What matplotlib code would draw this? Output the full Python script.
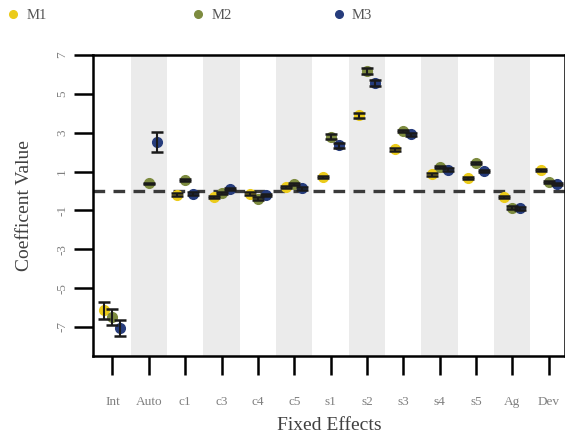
import numpy as np
import matplotlib
matplotlib.use("Agg")
import matplotlib.pyplot as plt
from matplotlib.lines import Line2D

nan = np.nan

effects = ["Int", "Auto", "c1", "c3", "c4", "c5", "s1", "s2", "s3", "s4", "s5", "Ag", "Dev"]
models = ["M1", "M2", "M3"]

m1_est = [-6.15, nan, -0.18, -0.30, -0.13, 0.21, 0.73, 3.90, 2.14, 0.85, 0.68, -0.30, 1.07]
m2_est = [-6.50, 0.40, 0.56, -0.10, -0.39, 0.35, 2.79, 6.17, 3.08, 1.24, 1.45, -0.85, 0.45]
m3_est = [-7.07, 2.53, -0.13, 0.09, -0.22, 0.13, 2.36, 5.54, 2.91, 1.10, 1.04, -0.90, 0.35]

m1_err = [0.45, nan, 0.06, 0.06, 0.06, 0.06, 0.06, 0.14, 0.06, 0.06, 0.06, 0.06, 0.06]
m2_err = [0.40, 0.03, 0.06, 0.06, 0.06, 0.06, 0.12, 0.17, 0.06, 0.06, 0.06, 0.06, 0.06]
m3_err = [0.42, 0.50, 0.06, 0.06, 0.06, 0.06, 0.12, 0.15, 0.06, 0.06, 0.06, 0.06, 0.06]

colors = ["#EBCB1A", "#7D8B3F", "#263C7C"]
offsets = [-0.22, 0.0, 0.22]
legend_x = [-0.013, 0.315, 0.563]

y_ticks = [-7, -5, -3, -1, 1, 3, 5, 7]

plt.rcParams["font.family"] = ["Liberation Serif", "DejaVu Serif"]

fig = plt.figure(figsize=(5.65, 4.44), dpi=100)
ax = fig.add_axes([0.165, 0.198, 0.835, 0.678])

x = np.arange(len(effects))
for i in x:
    if i % 2 == 1:
        ax.axvspan(i - 0.5, i + 0.5, color="#EBEBEB", lw=0, zorder=0)

ax.axhline(0, color="#3a3a3a", lw=2.4, ls=(0, (3.5, 2.5)), zorder=1)

series = [(m1_est, m1_err), (m2_est, m2_err), (m3_est, m3_err)]
for (est, err), name, col, off in zip(series, models, colors, offsets):
    ax.plot(x + off, est, "o", color=col, ms=7, mec=col, zorder=3, label=name)
    ax.errorbar(x + off, est, yerr=err, fmt="none", ecolor="#1a1a1a",
                elinewidth=1.5, capsize=4.5, capthick=1.8, zorder=4)

ax.set_xlim(-0.53, 12.45)
ax.set_ylim(-8.5, 7)
ax.set_xticks(x)
ax.set_xticklabels(effects)
ax.set_yticks(y_ticks)
ax.set_yticklabels([str(v) for v in y_ticks], rotation=90, va="center")

for s in ["left", "top", "bottom", "right"]:
    ax.spines[s].set_linewidth(1.8)
ax.tick_params(axis="both", length=14, width=1.8, labelsize=9.5, labelcolor="#808080")
ax.tick_params(axis="x", pad=15)
ax.tick_params(axis="y", pad=4)

ax.set_xlabel("Fixed Effects", fontsize=14, color="#404040", labelpad=6)
ax.set_ylabel("Coefficent Value", fontsize=14, color="#404040", labelpad=17)

for name, col, lx in zip(models, colors, legend_x):
    h = Line2D([], [], marker="o", ls="none", color=col, ms=5.5)
    fig.legend([h], [name], loc="center left", bbox_to_anchor=(lx, 0.965),
               frameon=False, fontsize=10.5, handletextpad=0.4,
               labelcolor="#555555", handlelength=1.0)

fig.savefig("out.png", dpi=100)
